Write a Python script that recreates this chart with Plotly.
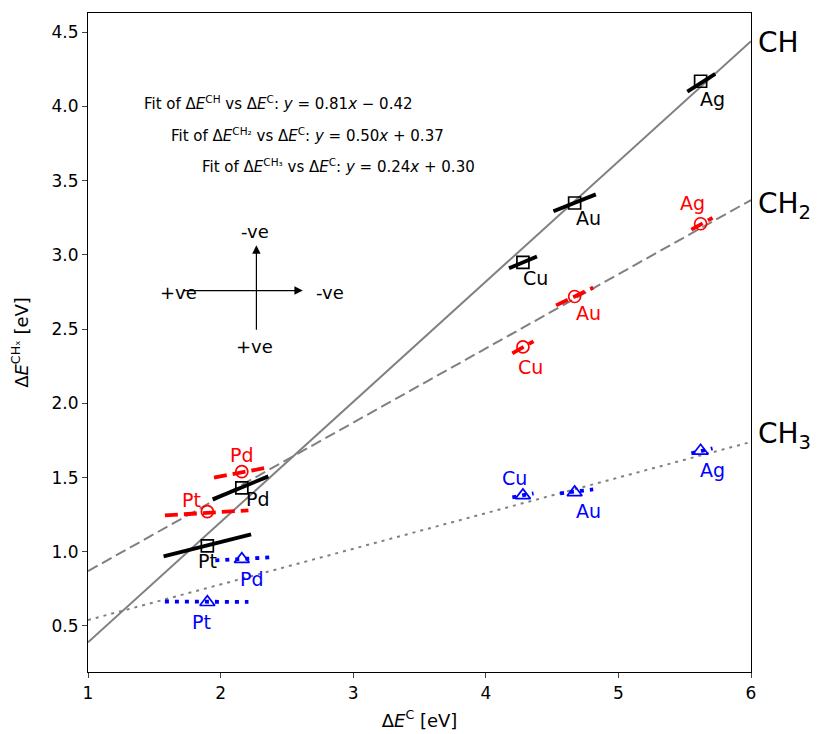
import plotly.graph_objects as go

metals = ["Pt", "Pd", "Cu", "Au", "Ag"]
dE_C = [1.90, 2.16, 4.28, 4.67, 5.62]
dE_CH = [1.04, 1.43, 2.95, 3.35, 4.17]
dE_CH2 = [1.27, 1.54, 2.38, 2.72, 3.21]
dE_CH3 = [0.66, 0.95, 1.38, 1.40, 1.68]

# fits y = a x + b
fit_CH = (0.81, -0.42)
fit_CH2 = (0.50, 0.37)
fit_CH3 = (0.24, 0.30)
fit_x = [1.0, 6.0]

# short slope segments through each point (start/end)
segCH_x0 = [1.57, 1.94, 4.175, 4.51, 5.52]
segCH_x1 = [2.23, 2.36, 4.386, 4.83, 5.73]
segCH_y0 = [0.969, 1.353, 2.91, 3.294, 4.10]
segCH_y1 = [1.117, 1.508, 2.99, 3.408, 4.22]

segCH2_x0 = [1.58, 1.95, 4.20, 4.53, 5.55]
segCH2_x1 = [2.21, 2.37, 4.36, 4.81, 5.71]
segCH2_y0 = [1.245, 1.50, 2.337, 2.66, 3.17]
segCH2_y1 = [1.279, 1.57, 2.418, 2.78, 3.25]

segCH3_x0 = [1.58, 1.96, 4.20, 4.56, 5.55]
segCH3_x1 = [2.21, 2.37, 4.36, 4.81, 5.71]
segCH3_y0 = [0.665, 0.942, 1.367, 1.394, 1.663]
segCH3_y1 = [0.662, 0.962, 1.394, 1.420, 1.697]

# label pixel offsets (dx right, dy up)
offCH = [(0, -15), (16, -11), (13, -16), (14, -15), (12, -18)]
offCH2 = [(-16, 12), (0, 17), (8, -20), (14, -17), (-8, 21)]
offCH3 = [(-6, -20), (10, -20), (-8, 17), (14, -19), (12, -19)]

FONT = "DejaVu Sans"
GRAY = "#808080"

fig = go.Figure()


def seg_xy(x0, x1, y0, y1):
    xs, ys = [], []
    for a, b, c, d in zip(x0, x1, y0, y1):
        xs += [a, b, None]
        ys += [c, d, None]
    return xs, ys


# fit lines
for (a, b), dash in [(fit_CH, "solid"), (fit_CH2, "11px,5px"), (fit_CH3, "3px,5px")]:
    fig.add_trace(go.Scatter(x=fit_x, y=[a * v + b for v in fit_x], mode="lines",
                             line=dict(color=GRAY, width=2, dash=dash),
                             showlegend=False, hoverinfo="skip"))

# segments
for (x0, x1, y0, y1), col, dash in [
    ((segCH_x0, segCH_x1, segCH_y0, segCH_y1), "black", "solid"),
    ((segCH2_x0, segCH2_x1, segCH2_y0, segCH2_y1), "red", "13px,6px"),
    ((segCH3_x0, segCH3_x1, segCH3_y0, segCH3_y1), "blue", "4px,6px"),
]:
    xs, ys = seg_xy(x0, x1, y0, y1)
    fig.add_trace(go.Scatter(x=xs, y=ys, mode="lines",
                             line=dict(color=col, width=3.8, dash=dash),
                             showlegend=False, hoverinfo="skip"))

# markers
for ys, col, sym, sz in [(dE_CH, "black", "square-open", 12),
                         (dE_CH2, "red", "circle-open", 12),
                         (dE_CH3, "blue", "triangle-up-open", 13)]:
    fig.add_trace(go.Scatter(x=dE_C, y=ys, mode="markers",
                             marker=dict(symbol=sym, size=sz, color=col,
                                         line=dict(width=1.7, color=col)),
                             showlegend=False))

anns = []
for ys, col, offs in [(dE_CH, "black", offCH), (dE_CH2, "red", offCH2), (dE_CH3, "blue", offCH3)]:
    for m, x, y, (dx, dy) in zip(metals, dE_C, ys, offs):
        anns.append(dict(x=x, y=y, xref="x", yref="y", text=m, showarrow=False,
                         xshift=dx, yshift=dy, font=dict(family=FONT, size=19, color=col)))

# fit text
fit_texts = [
    "Fit of Δ<i>E</i><sup>CH</sup> vs Δ<i>E</i><sup>C</sup>: <i>y</i> = 0.81<i>x</i> − 0.42",
    "Fit of Δ<i>E</i><sup>CH₂</sup> vs Δ<i>E</i><sup>C</sup>: <i>y</i> = 0.50<i>x</i> + 0.37",
    "Fit of Δ<i>E</i><sup>CH₃</sup> vs Δ<i>E</i><sup>C</sup>: <i>y</i> = 0.24<i>x</i> + 0.30",
]
fit_pos = [(142, 103), (169, 135), (200, 166)]
for t, (px, py) in zip(fit_texts, fit_pos):
    anns.append(dict(x=(px - 88) / 663, y=(672 - py) / 659, xref="paper", yref="paper",
                     text=t, showarrow=False, xanchor="left", yanchor="middle",
                     font=dict(family=FONT, size=15, color="black")))

# arrows
anns.append(dict(x=2.62, y=2.76, ax=1.71, ay=2.76, xref="x", yref="y", axref="x", ayref="y",
                 text="", showarrow=True, arrowhead=2, arrowsize=1.4, arrowwidth=1.2,
                 arrowcolor="black"))
anns.append(dict(x=2.27, y=3.065, ax=2.27, ay=2.485, xref="x", yref="y", axref="x", ayref="y",
                 text="", showarrow=True, arrowhead=2, arrowsize=1.4, arrowwidth=1.2,
                 arrowcolor="black"))
arrow_texts = [("-ve", 255, 232), ("+ve", 178, 292), ("-ve", 330, 292), ("+ve", 254, 346)]
for t, px, py in arrow_texts:
    anns.append(dict(x=(px - 88) / 663, y=(672 - py) / 659, xref="paper", yref="paper",
                     text=t, showarrow=False, xanchor="center", yanchor="middle",
                     font=dict(family=FONT, size=18, color="black")))

# series names on right
for t, py in [("CH", 43), ("CH<sub>2</sub>", 205), ("CH<sub>3</sub>", 436)]:
    anns.append(dict(x=(756 - 88) / 663, y=(672 - py) / 659, xref="paper", yref="paper",
                     text=t, showarrow=False, xanchor="left", yanchor="middle",
                     font=dict(family=FONT, size=28, color="black")))

# page has an 8px body margin, so the figure is sized/shifted to compensate
fig.update_layout(
    width=812, height=726,
    margin=dict(l=80, r=69, t=5, b=62, autoexpand=False),
    paper_bgcolor="white", plot_bgcolor="white",
    font=dict(family=FONT, size=17, color="black"),
    annotations=anns,
    showlegend=False,
)
fig.update_xaxes(range=[1, 6], tickvals=[1, 2, 3, 4, 5, 6], ticks="outside", ticklen=5,
                 showline=True, linecolor="black", linewidth=1.2, mirror=True,
                 showgrid=False, zeroline=False, automargin=False,
                 title=dict(text="Δ<i>E</i><sup>C</sup> [eV]", font=dict(size=18), standoff=12))
fig.update_yaxes(range=[0.19, 4.63], tickvals=[0.5, 1.0, 1.5, 2.0, 2.5, 3.0, 3.5, 4.0, 4.5],
                 tickformat=".1f", ticks="outside", ticklen=5,
                 showline=True, linecolor="black", linewidth=1.2, mirror=True,
                 showgrid=False, zeroline=False, automargin=False,
                 title=dict(text="Δ<i>E</i><sup>CHₓ</sup> [eV]", font=dict(size=18), standoff=22))

fig.write_html("out.html")
